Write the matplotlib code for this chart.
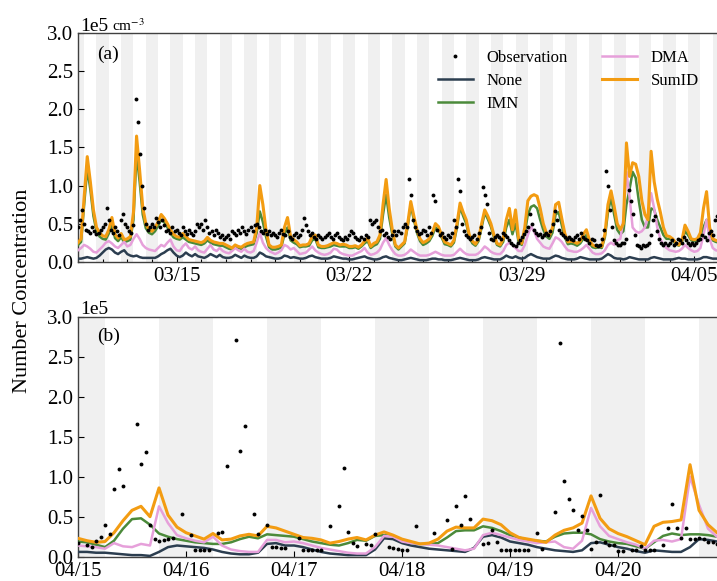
import numpy as np
import pandas as pd
import matplotlib
matplotlib.use("Agg")
import matplotlib.pyplot as plt
import matplotlib.dates as mdates

plt.rcParams['font.family'] = ['Liberation Serif', 'DejaVu Serif']
plt.rcParams['mathtext.fontset'] = 'stix'

# all concentrations in 1e5 cm^-3

# ---- panel (a): 03/11 - 04/06, model every 3 h, observation every 2 h ----
start_a = "2023-03-11"

sumid_a = [
    0.25, 0.30, 0.85, 1.38, 1.05, 0.68, 0.45, 0.38,
    0.34, 0.33, 0.42, 0.58, 0.36, 0.31, 0.37, 0.29,
    0.30, 0.33, 0.65, 1.65, 1.20, 0.72, 0.50, 0.42,
    0.40, 0.45, 0.52, 0.62, 0.57, 0.50, 0.42, 0.36,
    0.33, 0.32, 0.37, 0.33, 0.29, 0.28, 0.27, 0.26,
    0.25, 0.27, 0.32, 0.28, 0.26, 0.25, 0.24, 0.24,
    0.22, 0.20, 0.18, 0.22, 0.20, 0.19, 0.22, 0.24,
    0.25, 0.26, 0.45, 1.00, 0.75, 0.42, 0.22, 0.19,
    0.19, 0.20, 0.22, 0.45, 0.58, 0.33, 0.29, 0.26,
    0.21, 0.22, 0.22, 0.24, 0.33, 0.35, 0.22, 0.20,
    0.20, 0.21, 0.23, 0.25, 0.24, 0.22, 0.23, 0.22,
    0.20, 0.20, 0.21, 0.19, 0.22, 0.27, 0.31, 0.20,
    0.24, 0.26, 0.35, 0.75, 1.08, 0.70, 0.42, 0.22,
    0.18, 0.22, 0.26, 0.50, 0.79, 0.60, 0.42, 0.30,
    0.25, 0.27, 0.30, 0.38, 0.50, 0.46, 0.35, 0.26,
    0.24, 0.22, 0.28, 0.50, 0.77, 0.65, 0.55, 0.35,
    0.27, 0.23, 0.30, 0.50, 0.68, 0.60, 0.50, 0.35,
    0.24, 0.22, 0.30, 0.55, 0.70, 0.42, 0.68, 0.30,
    0.24, 0.45, 0.80, 0.86, 0.88, 0.86, 0.70, 0.50,
    0.38, 0.34, 0.45, 0.75, 0.78, 0.57, 0.37, 0.26,
    0.27, 0.26, 0.24, 0.27, 0.36, 0.42, 0.28, 0.22,
    0.20, 0.21, 0.20, 0.36, 0.75, 0.93, 0.73, 0.50,
    0.42, 0.50, 1.56, 1.12, 1.30, 1.28, 1.12, 0.80,
    0.62, 0.55, 1.45, 1.05, 0.82, 0.65, 0.45, 0.34,
    0.33, 0.30, 0.25, 0.22, 0.28, 0.48, 0.40, 0.30,
    0.29, 0.30, 0.38, 0.70, 0.92, 0.45, 0.30, 0.28,
    0.27, 0.27, 0.30,
]

imn_a = [
    0.22, 0.26, 0.75, 1.22, 0.95, 0.60, 0.40, 0.33,
    0.30, 0.29, 0.37, 0.50, 0.31, 0.27, 0.32, 0.26,
    0.27, 0.29, 0.55, 1.42, 1.05, 0.62, 0.44, 0.38,
    0.36, 0.40, 0.47, 0.55, 0.52, 0.45, 0.38, 0.32,
    0.30, 0.29, 0.32, 0.29, 0.26, 0.25, 0.24, 0.23,
    0.22, 0.24, 0.28, 0.25, 0.23, 0.22, 0.21, 0.21,
    0.19, 0.17, 0.16, 0.19, 0.18, 0.17, 0.19, 0.21,
    0.22, 0.23, 0.38, 0.66, 0.52, 0.33, 0.19, 0.16,
    0.16, 0.17, 0.19, 0.36, 0.45, 0.28, 0.25, 0.23,
    0.19, 0.20, 0.20, 0.21, 0.28, 0.30, 0.19, 0.18,
    0.18, 0.19, 0.20, 0.22, 0.21, 0.20, 0.20, 0.20,
    0.18, 0.18, 0.19, 0.17, 0.20, 0.24, 0.27, 0.18,
    0.21, 0.23, 0.30, 0.62, 0.88, 0.58, 0.36, 0.20,
    0.16, 0.20, 0.24, 0.46, 0.74, 0.55, 0.38, 0.27,
    0.22, 0.24, 0.27, 0.34, 0.45, 0.42, 0.32, 0.23,
    0.22, 0.20, 0.25, 0.45, 0.72, 0.60, 0.50, 0.32,
    0.24, 0.21, 0.27, 0.45, 0.64, 0.56, 0.46, 0.32,
    0.22, 0.20, 0.26, 0.45, 0.55, 0.36, 0.50, 0.26,
    0.22, 0.38, 0.62, 0.72, 0.74, 0.70, 0.55, 0.42,
    0.33, 0.30, 0.38, 0.62, 0.65, 0.48, 0.32, 0.23,
    0.24, 0.23, 0.21, 0.24, 0.30, 0.35, 0.24, 0.19,
    0.18, 0.19, 0.18, 0.32, 0.65, 0.84, 0.62, 0.42,
    0.36, 0.40, 0.75, 0.95, 1.18, 1.10, 0.80, 0.55,
    0.45, 0.45, 0.70, 0.68, 0.55, 0.45, 0.35, 0.30,
    0.30, 0.28, 0.23, 0.21, 0.26, 0.40, 0.35, 0.28,
    0.27, 0.28, 0.34, 0.45, 0.55, 0.38, 0.28, 0.26,
    0.25, 0.25, 0.27,
]

dma_a = [
    0.15, 0.18, 0.22, 0.20, 0.17, 0.13, 0.12, 0.16,
    0.20, 0.25, 0.27, 0.24, 0.20, 0.18, 0.22, 0.26,
    0.20, 0.22, 0.30, 0.36, 0.30, 0.22, 0.18, 0.16,
    0.15, 0.14, 0.18, 0.22, 0.20, 0.25, 0.29, 0.20,
    0.15, 0.14, 0.20, 0.24, 0.18, 0.16, 0.20, 0.15,
    0.13, 0.12, 0.17, 0.22, 0.16, 0.14, 0.18, 0.14,
    0.12, 0.11, 0.14, 0.18, 0.15, 0.13, 0.17, 0.13,
    0.12, 0.14, 0.25, 0.38, 0.25, 0.18, 0.14, 0.12,
    0.10, 0.12, 0.15, 0.22, 0.20, 0.16, 0.18, 0.14,
    0.10, 0.11, 0.12, 0.16, 0.20, 0.15, 0.12, 0.10,
    0.09, 0.10, 0.12, 0.17, 0.16, 0.12, 0.10, 0.09,
    0.08, 0.08, 0.10, 0.12, 0.14, 0.18, 0.12, 0.09,
    0.10, 0.12, 0.16, 0.25, 0.31, 0.22, 0.15, 0.10,
    0.08, 0.08, 0.09, 0.12, 0.16, 0.13, 0.10, 0.08,
    0.08, 0.08, 0.09, 0.11, 0.13, 0.11, 0.09, 0.08,
    0.08, 0.08, 0.09, 0.13, 0.17, 0.13, 0.10, 0.09,
    0.09, 0.09, 0.11, 0.15, 0.20, 0.17, 0.13, 0.11,
    0.10, 0.10, 0.14, 0.22, 0.25, 0.22, 0.18, 0.14,
    0.14, 0.22, 0.35, 0.46, 0.40, 0.30, 0.25, 0.20,
    0.18, 0.17, 0.24, 0.32, 0.30, 0.26, 0.20, 0.15,
    0.14, 0.13, 0.13, 0.15, 0.18, 0.22, 0.17, 0.12,
    0.10, 0.10, 0.11, 0.15, 0.22, 0.25, 0.22, 0.28,
    0.30, 0.55, 1.18, 0.85, 0.45, 0.40, 0.38, 0.40,
    0.45, 0.60, 0.90, 0.70, 0.45, 0.30, 0.22, 0.18,
    0.15, 0.14, 0.13, 0.14, 0.17, 0.22, 0.18, 0.15,
    0.13, 0.14, 0.18, 0.35, 0.55, 0.30, 0.18, 0.15,
    0.14, 0.14, 0.15,
]

none_a = [
    0.04, 0.04, 0.05, 0.06, 0.05, 0.04, 0.05, 0.08,
    0.12, 0.16, 0.18, 0.16, 0.12, 0.10, 0.13, 0.15,
    0.10, 0.08, 0.07, 0.08, 0.06, 0.05, 0.05, 0.05,
    0.05, 0.05, 0.07, 0.10, 0.12, 0.15, 0.17, 0.12,
    0.08, 0.06, 0.08, 0.12, 0.09, 0.07, 0.10, 0.07,
    0.06, 0.05, 0.07, 0.10, 0.08, 0.06, 0.09, 0.06,
    0.05, 0.05, 0.06, 0.09, 0.07, 0.05, 0.08, 0.06,
    0.05, 0.05, 0.07, 0.12, 0.10, 0.07, 0.06, 0.05,
    0.04, 0.04, 0.05, 0.08, 0.07, 0.05, 0.06, 0.05,
    0.04, 0.04, 0.05, 0.07, 0.08, 0.06, 0.05, 0.04,
    0.04, 0.04, 0.05, 0.07, 0.06, 0.05, 0.04, 0.04,
    0.03, 0.03, 0.04, 0.05, 0.06, 0.07, 0.05, 0.04,
    0.03, 0.03, 0.04, 0.06, 0.07, 0.05, 0.04, 0.03,
    0.02, 0.02, 0.03, 0.04, 0.05, 0.04, 0.03, 0.02,
    0.02, 0.02, 0.03, 0.04, 0.04, 0.03, 0.03, 0.02,
    0.02, 0.02, 0.03, 0.04, 0.05, 0.04, 0.03, 0.02,
    0.02, 0.02, 0.03, 0.05, 0.06, 0.05, 0.04, 0.03,
    0.03, 0.03, 0.05, 0.08, 0.06, 0.05, 0.07, 0.05,
    0.04, 0.05, 0.08, 0.10, 0.08, 0.06, 0.05, 0.04,
    0.04, 0.04, 0.06, 0.08, 0.07, 0.05, 0.04, 0.03,
    0.03, 0.03, 0.04, 0.06, 0.05, 0.04, 0.03, 0.03,
    0.03, 0.03, 0.04, 0.07, 0.10, 0.08, 0.05, 0.04,
    0.04, 0.03, 0.04, 0.06, 0.05, 0.04, 0.03, 0.03,
    0.03, 0.03, 0.05, 0.06, 0.05, 0.04, 0.03, 0.03,
    0.03, 0.03, 0.04, 0.05, 0.04, 0.04, 0.03, 0.03,
    0.03, 0.03, 0.04, 0.06, 0.06, 0.05, 0.04, 0.04,
    0.04, 0.04, 0.04,
]

obs_a = [
    0.45, 0.55, 0.68, 0.50, 0.42, 0.40, 0.38, 0.45, 0.40, 0.36, 0.38, 0.42,
    0.45, 0.50, 0.70, 0.55, 0.42, 0.38, 0.45, 0.40, 0.35, 0.55, 0.62, 0.50,
    0.45, 0.40, 0.38, 0.48, 2.14, 1.84, 1.42, 1.00, 0.70, 0.50, 0.42, 0.45,
    0.50, 0.45, 0.58, 0.52, 0.45, 0.55, 0.48, 0.40, 0.42, 0.38, 0.45, 0.40,
    0.42, 0.38, 0.35, 0.45, 0.40, 0.36, 0.42, 0.38, 0.35, 0.40, 0.50, 0.45,
    0.50, 0.42, 0.55, 0.45, 0.38, 0.40, 0.35, 0.42, 0.38, 0.33, 0.35, 0.30,
    0.32, 0.35, 0.30, 0.40, 0.38, 0.35, 0.42, 0.38, 0.45, 0.40, 0.36, 0.42,
    0.45, 0.40, 0.48, 0.50, 0.45, 0.40, 0.38, 0.42, 0.36, 0.40, 0.35, 0.38,
    0.35, 0.32, 0.38, 0.42, 0.36, 0.35, 0.40, 0.33, 0.30, 0.35, 0.38, 0.32,
    0.35, 0.42, 0.57, 0.48, 0.40, 0.35, 0.38, 0.33, 0.30, 0.35, 0.32, 0.30,
    0.32, 0.35, 0.38, 0.33, 0.30, 0.35, 0.38, 0.32, 0.30, 0.28, 0.33, 0.30,
    0.35, 0.40, 0.38, 0.33, 0.30, 0.28, 0.32, 0.30, 0.35, 0.33, 0.55, 0.50,
    0.52, 0.55, 0.45, 0.40, 0.42, 0.35, 0.38, 0.33, 0.30, 0.35, 0.40, 0.35,
    0.40, 0.38, 0.45, 0.50, 0.45, 1.08, 0.88, 0.55, 0.45, 0.40, 0.36, 0.38,
    0.42, 0.40, 0.35, 0.45, 0.38, 0.87, 0.80, 0.42, 0.35, 0.38, 0.33, 0.30,
    0.35, 0.33, 0.38, 0.55, 0.45, 1.08, 0.93, 0.50, 0.40, 0.35, 0.33, 0.30,
    0.32, 0.35, 0.30, 0.38, 0.45, 0.98, 0.87, 0.76, 0.38, 0.30, 0.28, 0.33,
    0.35, 0.33, 0.30, 0.38, 0.35, 0.32, 0.28, 0.25, 0.22, 0.20, 0.25, 0.28,
    0.33, 0.36, 0.40, 0.45, 0.62, 0.50, 0.42, 0.38, 0.35, 0.36, 0.33, 0.35,
    0.38, 0.35, 0.40, 0.50, 0.67, 0.55, 0.42, 0.38, 0.35, 0.33, 0.30, 0.32,
    0.30, 0.28, 0.33, 0.35, 0.30, 0.38, 0.33, 0.30, 0.28, 0.25, 0.30, 0.28,
    0.22, 0.20, 0.22, 0.30, 0.42, 1.19, 1.00, 0.68, 0.45, 0.28, 0.25, 0.22,
    0.22, 0.24, 0.25, 0.30, 0.94, 0.80, 0.62, 0.35, 0.22, 0.20, 0.18, 0.22,
    0.20, 0.22, 0.25, 0.35, 0.55, 0.60, 0.40, 0.30, 0.25, 0.22, 0.24, 0.22,
    0.25, 0.28, 0.22, 0.25, 0.30, 0.28, 0.25, 0.33, 0.28, 0.25, 0.22, 0.25,
    0.22, 0.25, 0.28, 0.30, 0.35, 0.32, 0.28, 0.38, 0.40, 0.35, 0.55, 0.60,
]

# ---- panel (b): 04/15 - 04/21, model every 2 h, observation hourly ----
start_b = "2023-04-15"

sumid_b = [
    0.23, 0.20, 0.18, 0.19, 0.30, 0.45, 0.58, 0.63, 0.50, 0.86, 0.52, 0.37,
    0.30, 0.26, 0.22, 0.29, 0.21, 0.22, 0.26, 0.28, 0.26, 0.38, 0.36, 0.32,
    0.28, 0.24, 0.23, 0.21, 0.17, 0.19, 0.22, 0.24, 0.21, 0.27, 0.31, 0.27,
    0.22, 0.19, 0.16, 0.17, 0.22, 0.32, 0.37, 0.36, 0.36, 0.47, 0.45, 0.40,
    0.30, 0.24, 0.22, 0.20, 0.18, 0.27, 0.33, 0.36, 0.42, 0.76, 0.48, 0.35,
    0.29, 0.25, 0.20, 0.15, 0.38, 0.43, 0.44, 0.46, 1.15, 0.58, 0.40, 0.30,
    0.28,
]

imn_b = [
    0.19, 0.18, 0.15, 0.12, 0.20, 0.35, 0.47, 0.48, 0.40, 0.29, 0.25, 0.22,
    0.20, 0.18, 0.17, 0.16, 0.16, 0.18, 0.22, 0.25, 0.23, 0.28, 0.27, 0.26,
    0.25, 0.22, 0.19, 0.17, 0.15, 0.14, 0.17, 0.21, 0.20, 0.26, 0.27, 0.26,
    0.21, 0.17, 0.16, 0.16, 0.17, 0.24, 0.32, 0.33, 0.33, 0.38, 0.36, 0.32,
    0.27, 0.24, 0.21, 0.20, 0.19, 0.25, 0.29, 0.30, 0.30, 0.28, 0.22, 0.19,
    0.17, 0.16, 0.13, 0.10, 0.18, 0.26, 0.29, 0.27, 0.28, 0.28, 0.27, 0.25,
    0.24,
]

dma_b = [
    0.14, 0.13, 0.12, 0.10, 0.17, 0.13, 0.12, 0.16, 0.14, 0.63, 0.42, 0.27,
    0.23, 0.20, 0.18, 0.25, 0.14, 0.09, 0.07, 0.06, 0.06, 0.21, 0.21, 0.18,
    0.19, 0.17, 0.14, 0.11, 0.09, 0.07, 0.05, 0.04, 0.04, 0.12, 0.26, 0.25,
    0.19, 0.17, 0.16, 0.15, 0.14, 0.12, 0.10, 0.08, 0.10, 0.27, 0.30, 0.27,
    0.24, 0.21, 0.19, 0.17, 0.18, 0.19, 0.12, 0.10, 0.20, 0.61, 0.38, 0.26,
    0.22, 0.18, 0.15, 0.10, 0.20, 0.21, 0.19, 0.22, 1.00, 0.65, 0.35, 0.25,
    0.24,
]

none_b = [
    0.06, 0.06, 0.05, 0.05, 0.04, 0.03, 0.02, 0.02, 0.01, 0.06, 0.12, 0.14,
    0.13, 0.12, 0.11, 0.09, 0.06, 0.04, 0.03, 0.03, 0.05, 0.16, 0.17, 0.14,
    0.14, 0.12, 0.09, 0.06, 0.04, 0.03, 0.02, 0.02, 0.02, 0.09, 0.23, 0.22,
    0.17, 0.14, 0.12, 0.10, 0.09, 0.08, 0.07, 0.06, 0.11, 0.25, 0.27, 0.24,
    0.19, 0.17, 0.15, 0.12, 0.10, 0.08, 0.07, 0.06, 0.08, 0.17, 0.18, 0.15,
    0.12, 0.10, 0.07, 0.05, 0.08, 0.07, 0.06, 0.06, 0.12, 0.22, 0.21, 0.19,
    0.18,
]

nan = np.nan
obs_b = [
    0.17, nan, 0.15, 0.12, 0.20, 0.25, 0.40, 0.28, 0.85, 1.10, 0.88, nan,
    nan, 1.66, 1.16, 1.31, 0.40, 0.22, 0.20, 0.21, 0.22, 0.24, nan, 0.54,
    nan, 0.27, 0.09, 0.09, 0.09, 0.09, nan, 0.30, 0.31, 1.14, nan, 2.71,
    1.32, 1.63, nan, 0.53, 0.28, nan, 0.40, 0.12, 0.12, 0.11, 0.11, nan,
    nan, 0.23, 0.09, 0.09, 0.09, 0.09, 0.09, nan, 0.38, nan, 0.63, 1.11,
    0.31, 0.17, 0.14, nan, 0.16, 0.15, 0.29, nan, nan, 0.12, 0.11, 0.10,
    0.09, 0.09, nan, 0.39, nan, nan, nan, 0.30, nan, nan, 0.46, 0.10,
    0.63, 0.40, 0.76, 0.47, nan, nan, 0.16, 0.17, 0.34, 0.19, 0.09, 0.08,
    0.08, 0.08, 0.08, 0.08, 0.08, nan, 0.30, 0.10, nan, nan, 0.56, 2.67,
    0.95, 0.72, 0.58, 0.33, 0.51, 0.33, 0.10, 0.19, 0.77, 0.19, 0.15, 0.15,
    0.07, 0.07, nan, 0.09, 0.09, 0.14, 0.08, 0.08, 0.08, nan, 0.15, 0.36,
    0.66, 0.36, 0.24, 0.36, 0.22, 0.22, 0.24, 0.22, 0.19, 0.18, 0.16, nan,
]

series_names = ["None", "IMN", "DMA", "SumID"]
series_colors = ["#2c3e50", "#4b8a3a", "#e6a0da", "#f39c12"]
series_widths = [1.8, 1.8, 1.8, 2.2]


def shade_nights(ax, t0, t1):
    day = pd.Timestamp(t0).normalize() - pd.Timedelta(days=1)
    while day <= pd.Timestamp(t1):
        ax.axvspan(day + pd.Timedelta(hours=18), day + pd.Timedelta(hours=30),
                   color="#f0f0f0", lw=0, zorder=0)
        day += pd.Timedelta(days=1)


def draw_panel(ax, start, model, model_freq, obs, obs_freq, xlim):
    shade_nights(ax, xlim[0], xlim[1])
    t_obs = pd.date_range(start, periods=len(obs), freq=obs_freq)
    ax.plot(t_obs, obs, "o", color="black", ms=2.8, mew=0, zorder=6, label="Observation")
    for vals, name, c, lw in zip(model, series_names, series_colors, series_widths):
        t = pd.date_range(start, periods=len(vals), freq=model_freq)
        ax.plot(t, vals, color=c, lw=lw, label=name, zorder=3)
    ax.set_xlim(xlim)
    ax.set_ylim(0, 3.0)
    ax.set_yticks(np.arange(0, 3.01, 0.5))
    ax.yaxis.set_major_formatter(matplotlib.ticker.FormatStrFormatter("%.1f"))
    ax.xaxis.set_major_formatter(mdates.DateFormatter("%m/%d"))
    ax.tick_params(which="both", direction="in", labelsize=15, width=0.8)
    ax.tick_params(which="major", length=4)
    ax.tick_params(which="minor", length=2.5)
    for s in ax.spines.values():
        s.set_color("#404040")
        s.set_linewidth(1.0)


fig = plt.figure(figsize=(7.17, 5.81), dpi=100)
ax1 = fig.add_axes([0.1088, 0.5496, 0.9038, 0.3931])
ax2 = fig.add_axes([0.1088, 0.0418, 0.9038, 0.4131])

xlim_a = (pd.Timestamp(start_a), pd.Timestamp(start_a) + pd.Timedelta(days=26.29))
draw_panel(ax1, start_a, [none_a, imn_a, dma_a, sumid_a], "3h", obs_a, "2h", xlim_a)
ax1.xaxis.set_major_locator(mdates.DayLocator(bymonthday=[5, 15, 22, 29]))
ax1.xaxis.set_minor_locator(mdates.DayLocator())

xlim_b = (pd.Timestamp(start_b), pd.Timestamp(start_b) + pd.Timedelta(days=6))
draw_panel(ax2, start_b, [none_b, imn_b, dma_b, sumid_b], "2h", obs_b, "1h", xlim_b)
ax2.set_xticks(pd.date_range(start_b, periods=6, freq="D"))

ax1.text(0.029, 0.908, "(a)", transform=ax1.transAxes, fontsize=14, va="center")
ax2.text(0.029, 0.917, "(b)", transform=ax2.transAxes, fontsize=14, va="center")

ax1.text(0.003, 1.01, "1e5", transform=ax1.transAxes, fontsize=14, va="baseline")
ax1.text(0.052, 1.01, "cm$^{-3}$", transform=ax1.transAxes, fontsize=11, va="baseline")
ax2.text(0.003, 1.01, "1e5", transform=ax2.transAxes, fontsize=14, va="baseline")

handles, labels = ax1.get_legend_handles_labels()
ax1.legend(handles, labels, loc="upper left", bbox_to_anchor=(0.545, 0.958), ncol=2,
           frameon=False, fontsize=12, handlelength=2.1, handletextpad=0.8,
           columnspacing=2.1, labelspacing=0.42, borderaxespad=0, borderpad=0.4)

fig.text(0.031, 1 - 290.5 / 581, "Number Concentration", rotation=90,
         fontsize=16, va="center", ha="center")

fig.savefig("out.png", dpi=100)
